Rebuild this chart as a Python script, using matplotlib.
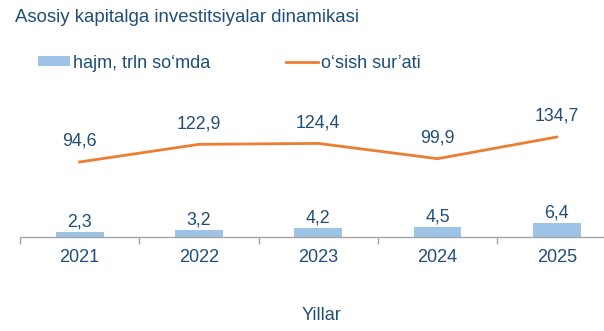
import matplotlib.pyplot as plt
import numpy as np
from matplotlib.lines import Line2D
from matplotlib.patches import Patch

plt.rcParams['font.family'] = ['Liberation Sans', 'DejaVu Sans']

years = ['2021', '2022', '2023', '2024', '2025']
volume = [2.3, 3.2, 4.2, 4.5, 6.4]          # hajm, trln so'mda
growth = [94.6, 122.9, 124.4, 99.9, 134.7]  # o'sish sur'ati, %

TEXT = '#1F4E79'
BAR = '#9DC3E6'
LINE = '#ED7D31'
AXIS = '#A6A6A6'


def fmt(v):
    return f'{v:.1f}'.replace('.', ',')


W, H = 604, 331
fig = plt.figure(figsize=(W / 100, H / 100), dpi=100, facecolor='white')

# axes span in pixels: x 20..616, y 95..237 (from top)
left, right, top, bottom = 20, 616.5, 95, 237
ax = fig.add_axes([left / W, 1 - bottom / H, (right - left) / W, (bottom - top) / H])
ax2 = ax.twinx()

x = np.arange(len(years))
ax.bar(x, volume, width=0.4, color=BAR, zorder=2)
ax.set_ylim(0, 64.8)
ax.set_xlim(-0.5, len(years) - 0.5)

for xi, v in zip(x, volume):
    ax.annotate(fmt(v), (xi, v), xytext=(0, 7), textcoords='offset points',
                ha='center', va='center', fontsize=12.8, color=TEXT)

ax2.plot(x, growth, color=LINE, lw=2, solid_joinstyle='miter', zorder=3)
ax2.set_ylim(-25.8, 202.1)
for xi, v in zip(x, growth):
    ax2.annotate(fmt(v), (xi, v), xytext=(0, 14.8), textcoords='offset points',
                 ha='center', va='center', fontsize=12.8, color=TEXT)

# category axis: labels at centres, tick marks on boundaries
ax.set_xticks(x)
ax.set_xticklabels(years, fontsize=13, color=TEXT)
ax.tick_params(axis='x', which='major', length=0, pad=8.5)
ax.set_xticks(np.arange(-0.5, len(years), 1), minor=True)
ax.tick_params(axis='x', which='minor', length=5, width=1, color=AXIS, direction='out')
ax.set_yticks([])
ax2.set_yticks([])
for a in (ax, ax2):
    for s in ('top', 'right', 'left', 'bottom'):
        a.spines[s].set_visible(False)
ax.spines['bottom'].set_visible(True)
ax.spines['bottom'].set_color(AXIS)
ax.spines['bottom'].set_linewidth(1)

fig.text(15 / W, 1 - 17.5 / H, 'Asosiy kapitalga investitsiyalar dinamikasi',
         fontsize=13.4, color=TEXT, ha='left', va='center')
fig.text(322 / W, 1 - 316 / H, 'Yillar', fontsize=13, color=TEXT,
         ha='center', va='center')

handles = [Patch(facecolor=BAR, edgecolor='none'),
           Line2D([], [], color=LINE, lw=2)]
fig.legend(handles, ['hajm, trln so‘mda', 'o‘sish sur’ati'],
           loc='center left', bbox_to_anchor=(38 / W, 1 - 63 / H),
           ncol=2, frameon=False, fontsize=13, labelcolor=TEXT,
           handlelength=1.75, handleheight=0.4, handletextpad=0.18,
           columnspacing=4.2, borderpad=0, borderaxespad=0)

fig.savefig('out.png', dpi=100, facecolor='white')
